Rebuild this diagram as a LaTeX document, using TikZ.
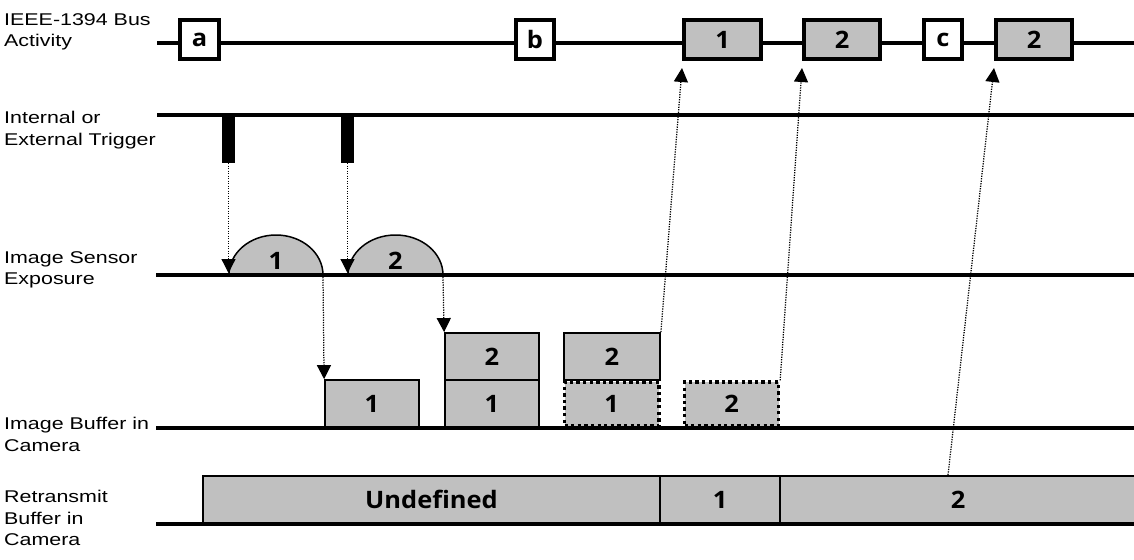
\documentclass[tikz,border=0pt]{standalone}
\usepackage{fontspec}
\setmainfont{Liberation Sans}[FakeStretch=1.26]
\newfontfamily\cellfont{Open Sans}[FakeStretch=1.06]
\usetikzlibrary{arrows.meta}
\definecolor{cellgray}{HTML}{C0C0C0}

\begin{document}
\begin{tikzpicture}[x=1pt,y=-1pt,
  lbl/.style={anchor=north west, inner sep=0pt, align=left,
    font=\fontsize{17}{21.5}\selectfont},
  rail/.style={line width=4pt},
  celltext/.style={font=\cellfont\bfseries\fontsize{24}{24}\selectfont},
  busbox/.style={draw, line width=4pt, inner sep=0pt, minimum height=39pt, celltext},
  bufbox/.style={draw, fill=cellgray, line width=1.8pt, inner sep=0pt,
    minimum height=47pt, celltext},
  ghostbox/.style={draw, fill=cellgray, line width=3.3pt,
    dash pattern=on 3.3pt off 3.3pt, inner sep=0pt, minimum height=44pt, celltext},
  retcell/.style={draw, fill=cellgray, line width=2pt, inner sep=0pt,
    minimum height=47pt, celltext},
  trig/.style={fill=black, inner sep=0pt, minimum width=13pt, minimum height=48pt},
  expo/.style={draw, fill=cellgray, line width=1.5pt},
  flow/.style={line width=1.25pt, dash pattern=on 1.25pt off 1.25pt,
    -{Triangle[width=14pt,length=14pt]}}
]
\useasboundingbox (0,0) rectangle (1134,559);

% row labels
\node[lbl] (l1) at (4,13) {IEEE-1394 Bus\\Activity};
\node[lbl] (l2) at (4,111) {Internal or\\External Trigger};
\node[lbl] (l3) at (4,251) {Image Sensor\\Exposure};
\node[lbl] (l4) at (4,417) {Image Buffer in\\Camera};
\node[lbl] (l5) at (4,490) {Retransmit\\Buffer in\\Camera};

% bus activity
\draw[rail] (157,43.5) -- (1134,43.5);
\node[busbox, fill=white, minimum width=39pt] (ba) at (199.5,39.5) {a};
\node[busbox, fill=white, minimum width=38pt] (bb) at (535,39.5) {b};
\node[busbox, fill=cellgray, minimum width=77pt] (p1) at (722.5,39.5) {1};
\node[busbox, fill=cellgray, minimum width=76pt] (p2) at (842,39.5) {2};
\node[busbox, fill=white, minimum width=38pt] (bc) at (943,39.5) {c};
\node[busbox, fill=cellgray, minimum width=76pt] (p3) at (1034,39.5) {2};

% trigger
\draw[rail] (157,115.5) -- (1134,115.5);
\node[trig] (t1) at (228.5,139) {};
\node[trig] (t2) at (347.5,139) {};

% exposure
\draw[expo] (229,275) arc[start angle=180, end angle=360, x radius=47, y radius=40] -- cycle;
\draw[expo] (348,275) arc[start angle=180, end angle=360, x radius=47.5, y radius=40] -- cycle;
\node[celltext] (x1) at (276,261) {1};
\node[celltext] (x2) at (395.5,261) {2};
\draw[rail] (156,275) -- (1134,275);
\coordinate (e1s) at (228.5,273);
\coordinate (e2s) at (347.5,273);
\coordinate (e1e) at (323,277);
\coordinate (e2e) at (443,277);

% image buffer
\node[bufbox, minimum width=94pt] (f1) at (372,403.5) {1};
\node[bufbox, minimum width=94pt] (f2lo) at (492,403.5) {1};
\node[bufbox, minimum width=94pt] (f2hi) at (492,356.5) {2};
\node[ghostbox, minimum width=94.5pt] (f3lo) at (611.75,404) {1};
\node[bufbox, minimum width=96pt] (f3hi) at (612,356.5) {2};
\node[ghostbox, minimum width=94pt] (f4) at (731.5,404) {2};
\draw[rail] (156,428) -- (1134,428);

% retransmit buffer
\node[retcell, minimum width=457pt] (r0) at (431.5,499.5) {Undefined};
\node[retcell, minimum width=120pt] (r1) at (720,499.5) {1};
\node[retcell, minimum width=356pt] (r2) at (958,499.5) {2};
\draw[rail] (156,523.5) -- (1134,523.5);

% data flow
\draw[flow] (t1.south) -- (e1s);
\draw[flow] (t2.south) -- (e2s);
\draw[flow] (e1e) -- (f1.north west);
\draw[flow] (e2e) -- (f2hi.north west);
\draw[flow] (f3hi.north east) -- ([yshift=-7pt]p1.south west);
\draw[flow] (f4.north east) -- ([yshift=-7pt]p2.south west);
\draw[flow] ([xshift=-10pt]r2.north) -- ([yshift=-7pt]p3.south west);
\end{tikzpicture}
\end{document}
